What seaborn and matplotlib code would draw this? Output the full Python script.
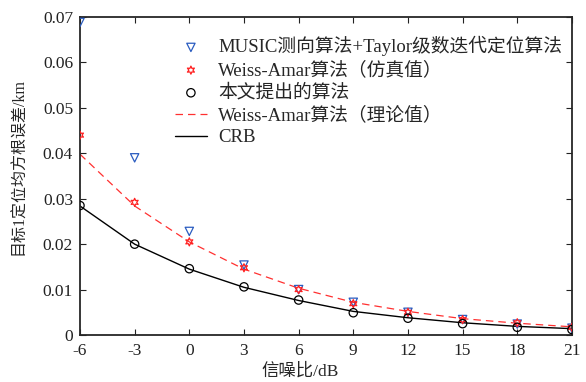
import numpy as np
import pandas as pd
import matplotlib
matplotlib.use("Agg")
import matplotlib.pyplot as plt
import seaborn as sns

snr = [-6, -3, 0, 3, 6, 9, 12, 15, 18, 21]
music_taylor = [0.0688, 0.0390, 0.0228, 0.0154, 0.0100, 0.0072, 0.0050, 0.0034, 0.0024, 0.0015]
wa_sim = [0.0440, 0.0292, 0.0205, 0.0148, 0.0100, 0.0069, 0.0050, 0.0034, 0.0027, 0.0017]
proposed = [0.0285, 0.0200, 0.0146, 0.0106, 0.0077, 0.0049, 0.0037, 0.0025, 0.0017, 0.0012]
wa_theory = [0.0398, 0.0284, 0.0205, 0.0145, 0.0103, 0.0072, 0.0052, 0.0036, 0.0026, 0.0018]
crb = [0.0284, 0.0200, 0.0145, 0.0105, 0.0076, 0.0052, 0.0038, 0.0027, 0.0019, 0.0014]

labels = ["MUSIC测向算法+Taylor级数迭代定位算法",
          "Weiss-Amar算法（仿真值）",
          "本文提出的算法",
          "Weiss-Amar算法（理论值）",
          "CRB"]

sns.set_style("ticks")
plt.rcParams['font.family'] = ['Liberation Serif', 'Noto Sans CJK SC']
plt.rcParams['xtick.direction'] = 'in'
plt.rcParams['ytick.direction'] = 'in'
plt.rcParams['axes.unicode_minus'] = False

fig = plt.figure(figsize=(5.86, 3.82), dpi=100)
ax = fig.add_axes([0.1365, 0.123, 0.8395, 0.8325])

df = pd.DataFrame({"snr": snr, "music": music_taylor, "wa_sim": wa_sim,
                   "prop": proposed, "wa_th": wa_theory, "crb": crb})

sns.scatterplot(data=df, x="snr", y="music", ax=ax, marker="v", s=36,
                facecolors="none", edgecolor="#2a5cc0", linewidth=0.9, label=labels[0], zorder=3)
sns.scatterplot(data=df, x="snr", y="wa_sim", ax=ax, marker=(6, 1, 0), s=34,
                facecolors="none", edgecolor="#ff2020", linewidth=0.9, label=labels[1], zorder=3)
sns.scatterplot(data=df, x="snr", y="prop", ax=ax, marker="o", s=36,
                facecolors="none", edgecolor="black", linewidth=0.9, label=labels[2], zorder=3)
sns.lineplot(data=df, x="snr", y="wa_th", ax=ax, color="#ff3030", linestyle=(0, (6, 4)),
             linewidth=0.9, label=labels[3])
sns.lineplot(data=df, x="snr", y="crb", ax=ax, color="black", linewidth=1.0, label=labels[4])

ax.set_xlim(-6, 21)
ax.set_ylim(0, 0.07)
ax.set_xticks(snr)
ax.set_xticklabels([str(v) for v in snr])
ax.set_yticks([0, 0.01, 0.02, 0.03, 0.04, 0.05, 0.06, 0.07])
ax.set_yticklabels(["0", "0.01", "0.02", "0.03", "0.04", "0.05", "0.06", "0.07"])
ax.tick_params(axis="both", labelsize=12.5, top=True, right=True, length=4.5, width=0.8,
               colors="#222222", pad=3)
ax.tick_params(axis="x", pad=6)
ax.tick_params(axis="y", pad=5)
for s in ax.spines.values():
    s.set_visible(True)
    s.set_linewidth(1.3)
ax.set_xlabel("信噪比/dB", fontsize=12.5)
ax.xaxis.set_label_coords(0.447, -0.09)
ax.set_ylabel("目标1定位均方根误差/km", fontsize=11.5)
ax.yaxis.set_label_coords(-0.108, 0.53)

leg = ax.legend(loc="upper right", frameon=False, fontsize=13.5, handlelength=1.7,
                borderaxespad=0, borderpad=0, labelspacing=0.26, handletextpad=0.6,
                bbox_to_anchor=(0.98, 0.94))

fig.savefig("out.png", dpi=100)
